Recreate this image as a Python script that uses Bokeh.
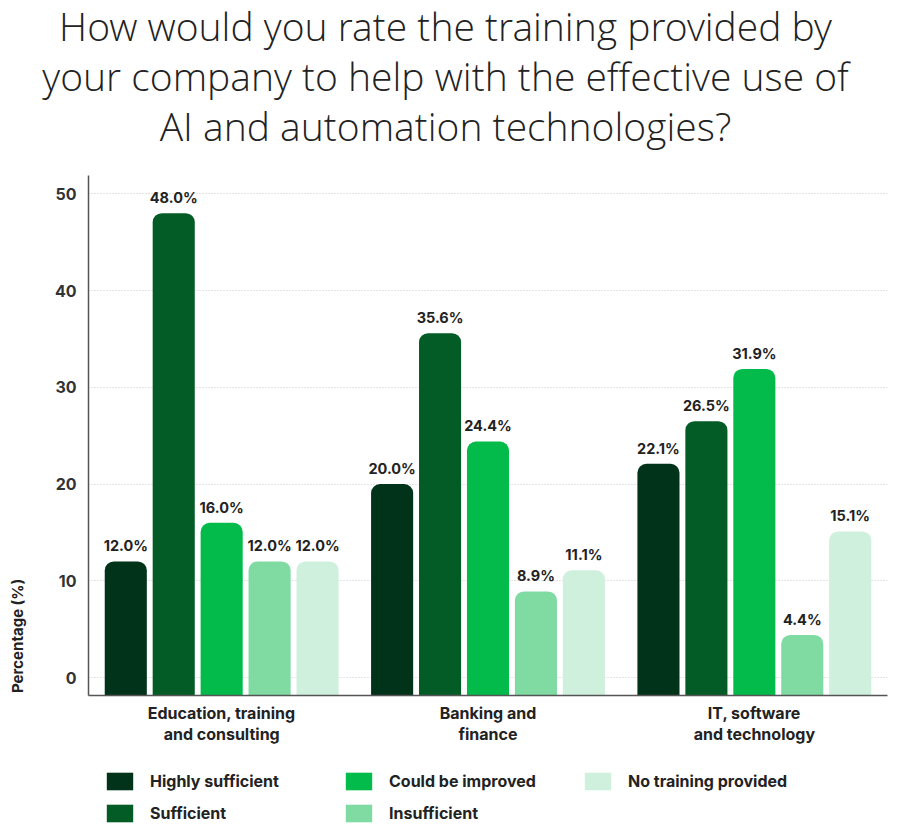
import math
from bokeh.plotting import figure
from bokeh.layouts import column, row
from bokeh.models import (ColumnDataSource, FixedTicker, Legend, LegendItem,
                          FactorRange, Range1d)
from bokeh.transform import dodge
from bokeh.core.properties import value
from bokeh.embed import file_html
from bokeh.resources import INLINE

# ---- data ----
categories = ["Education, training\nand consulting", "Banking and\nfinance", "IT, software\nand technology"]
series_names = ["Highly sufficient", "Sufficient", "Could be improved", "Insufficient", "No training provided"]
highly_sufficient = [12.0, 20.0, 22.1]
sufficient = [48.0, 35.6, 26.5]
could_be_improved = [16.0, 24.4, 31.9]
insufficient = [12.0, 8.9, 4.4]
no_training = [12.0, 11.1, 15.1]
y_ticks = [0, 10, 20, 30, 40, 50]
title_lines = ["How would you rate the training provided by",
               "your company to help with the effective use of",
               "AI and automation technologies?"]
y_label = "Percentage (%)"

series_values = [highly_sufficient, sufficient, could_be_improved, insufficient, no_training]
colors = ["#01321A", "#035C26", "#02BB4A", "#80DBA3", "#CEF0DC"]
offsets = [-0.36, -0.18, 0.0, 0.18, 0.36]

Y_START, Y_END = -1.86, 51.9
BODY_FONT = "Inter"
TITLE_FONT = "Open Sans Light"
TEXT_COLOR = "#222222"

W, H = 900, 836
HEADER_H = 170
LEGEND_H = 81
LABEL_W = 40
MAIN_H = H - HEADER_H - LEGEND_H
FRAME_LEFT, FRAME_TOP_PAD, FRAME_RIGHT_PAD, FRAME_BOTTOM_PAD = 88, 5, 13, 60


def bare(fig):
    fig.outline_line_color = None
    fig.background_fill_color = "white"
    fig.border_fill_color = "white"
    fig.xgrid.visible = False
    fig.ygrid.visible = False
    return fig


# ---- header (title) ----
header = bare(figure(width=W, height=HEADER_H, x_range=Range1d(0, W), y_range=Range1d(HEADER_H, 0),
                     output_backend="svg", toolbar_location=None,
                     x_axis_location=None, y_axis_location=None,
                     min_border=0, min_border_left=0, min_border_right=0,
                     min_border_top=0, min_border_bottom=0))
header.text(x=[445, 445, 445], y=[25, 75, 125], text=title_lines, text_align="center",
            text_baseline="middle", text_font=value(TITLE_FONT), text_font_size="39px",
            text_color=TEXT_COLOR)

# ---- main chart ----
y_range = Range1d(Y_START, Y_END)
p = figure(width=W - LABEL_W, height=MAIN_H, x_range=FactorRange(*categories, range_padding=0),
           y_range=y_range, output_backend="svg", toolbar_location=None,
           min_border_left=FRAME_LEFT - LABEL_W, min_border_right=FRAME_RIGHT_PAD,
           min_border_top=FRAME_TOP_PAD, min_border_bottom=FRAME_BOTTOM_PAD)
p.outline_line_color = None
p.background_fill_color = "white"
p.border_fill_color = "white"

data = {"cat": categories}
for name, vals in zip(series_names, series_values):
    data[name] = vals
    data[name + "_lbl"] = [f"{v:.1f}%" for v in vals]
source = ColumnDataSource(data)

for name, col, off in zip(series_names, colors, offsets):
    p.vbar(x=dodge("cat", off, range=p.x_range), top=name, bottom=Y_START, width=0.158,
           source=source, fill_color=col, line_color=None, border_radius=(9, 9, 0, 0))
    p.text(x=dodge("cat", off, range=p.x_range), y=name, text=name + "_lbl", source=source,
           text_align="center", text_baseline="bottom", y_offset=-7,
           text_font=value(BODY_FONT), text_font_style="bold", text_font_size="14.5px",
           text_color=TEXT_COLOR)

p.yaxis.ticker = FixedTicker(ticks=y_ticks)
p.yaxis.major_tick_line_color = None
p.yaxis.minor_tick_line_color = None
p.yaxis.axis_line_color = "#555555"
p.yaxis.axis_line_width = 1.5
p.yaxis.major_label_text_font = BODY_FONT
p.yaxis.major_label_text_font_style = "bold"
p.yaxis.major_label_text_font_size = "16px"
p.yaxis.major_label_text_color = "#333333"
p.yaxis.major_label_standoff = 6

p.xaxis.major_tick_line_color = None
p.xaxis.minor_tick_line_color = None
p.xaxis.axis_line_color = "#555555"
p.xaxis.axis_line_width = 1.5
p.xaxis.major_label_text_font = BODY_FONT
p.xaxis.major_label_text_font_style = "bold"
p.xaxis.major_label_text_font_size = "16px"
p.xaxis.major_label_text_color = TEXT_COLOR
p.xaxis.major_label_text_line_height = 1.05
p.xaxis.major_label_standoff = 1

p.xgrid.visible = False
p.ygrid.grid_line_color = "#c8c8c8"
p.ygrid.grid_line_dash = "1 2"
p.ygrid.grid_line_width = 1

# ---- y-axis title strip (shares the y range so the label sits where the reference has it) ----
ylab = bare(figure(width=LABEL_W, height=MAIN_H, x_range=Range1d(0, LABEL_W), y_range=y_range,
                   output_backend="svg", toolbar_location=None,
                   x_axis_location=None, y_axis_location=None,
                   min_border_left=0, min_border_right=0, min_border_top=FRAME_TOP_PAD,
                   min_border_bottom=FRAME_BOTTOM_PAD))
ylab.text(x=[17], y=[4.3], text=[y_label], angle=math.pi / 2, text_align="center",
          text_baseline="middle", text_font=value(BODY_FONT), text_font_style="bold",
          text_font_size="15px", text_color=TEXT_COLOR)

# ---- legend strip: same bars drawn against a y range far above the data (nothing visible),
#      used only as legend keys ----
leg_fig = bare(figure(width=W, height=LEGEND_H, x_range=FactorRange(*categories, range_padding=0),
                      y_range=Range1d(1000, 1001),
                      output_backend="svg", toolbar_location=None,
                      x_axis_location=None, y_axis_location=None,
                      min_border_left=0, min_border_right=0, min_border_top=0,
                      min_border_bottom=0))
key_renderers = {}
for name, col, off in zip(series_names, colors, offsets):
    key_renderers[name] = leg_fig.vbar(x=dodge("cat", off, range=leg_fig.x_range), top=name,
                                       bottom=Y_START, width=0.158, source=source,
                                       fill_color=col, line_color=None, border_radius=4)

legend_order = ["Highly sufficient", "Could be improved", "No training provided",
                "Sufficient", "Insufficient"]
items = [LegendItem(label=n, renderers=[key_renderers[n]]) for n in legend_order]
legend = Legend(items=items, orientation="horizontal", ncols=3, location=(103, 12),
                glyph_width=33, glyph_height=22, label_standoff=14, label_width=182,
                spacing=10, padding=0, margin=0, border_line_color=None,
                background_fill_alpha=0,
                label_text_font=BODY_FONT, label_text_font_style="bold",
                label_text_font_size="16px", label_text_color=TEXT_COLOR)
leg_fig.add_layout(legend, "center")

layout = column(header, row(ylab, p, spacing=0), leg_fig, spacing=0)
open("out.html", "w").write(file_html(layout, INLINE))
